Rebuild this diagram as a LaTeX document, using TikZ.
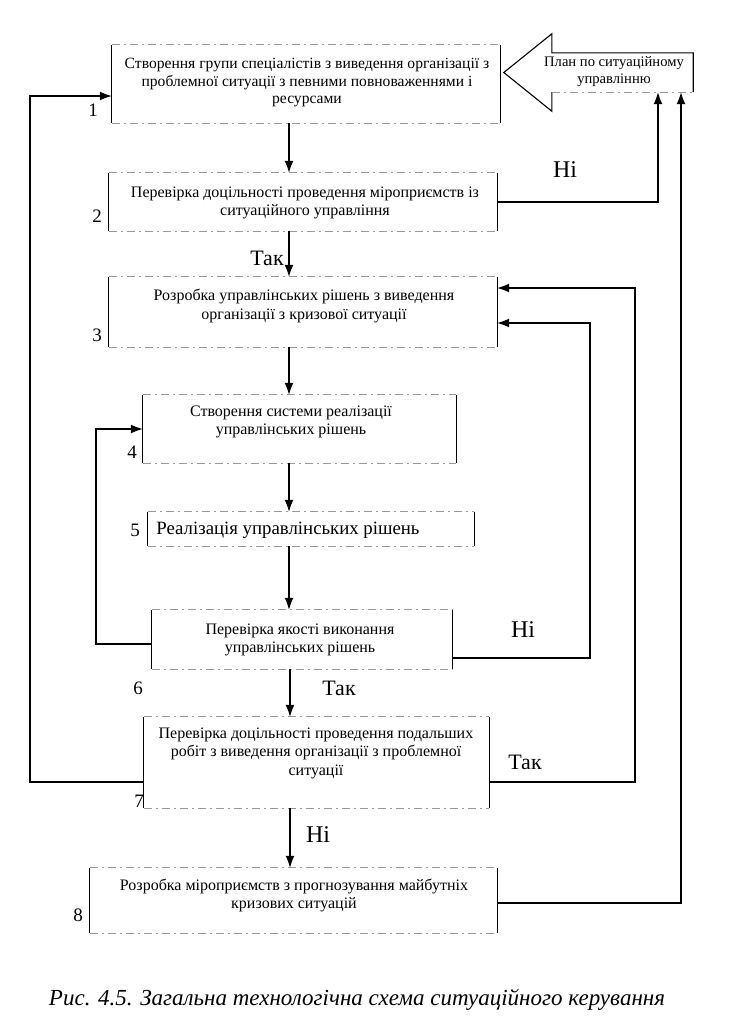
\documentclass[tikz,border=0pt]{standalone}
\usepackage{fontspec}
\setmainfont{Liberation Serif}
\usetikzlibrary{arrows.meta,calc}
\begin{document}
\begin{tikzpicture}[x=1pt,y=-1pt,
  box/.style={inner sep=0pt, minimum width=#1},
  txt/.style={inner sep=0pt, align=center, font=\fontsize{16}{18.5}\selectfont},
  side/.style={line width=1.1pt},
  faint/.style={line width=0.7pt, black!40, dash pattern=on 8pt off 4pt on 2pt off 4pt},
  conn/.style={line width=1.2pt, -{Latex[length=12pt,width=9pt]}},
  num/.style={inner sep=0pt, font=\fontsize{19}{19}\selectfont},
  lbl/.style={inner sep=0pt, font=\fontsize{24}{24}\selectfont},
  yes/.style={inner sep=0pt, font=\fontsize{22}{22}\selectfont}]
\useasboundingbox (0,0) rectangle (736,1026);

% boxes
\node[box=388pt, minimum height=78pt] (b1) at (306,84) {};
\node[box=388pt, minimum height=58pt] (b2) at (303,202) {};
\node[box=388pt, minimum height=70pt] (b3) at (303,312) {};
\node[box=313pt, minimum height=68pt] (b4) at (299.5,429) {};
\node[box=326pt, minimum height=34pt] (b5) at (311,529) {};
\node[box=300pt, minimum height=59pt] (b6) at (302,639.5) {};
\node[box=345pt, minimum height=91pt] (b7) at (316.5,762.5) {};
\node[box=407pt, minimum height=65pt] (b8) at (293.5,900.5) {};

\foreach \n in {b1,b2,b3,b4,b5,b6,b7,b8}{
  \draw[side] (\n.north west) -- (\n.south west);
  \draw[side] (\n.north east) -- (\n.south east);
  \draw[faint] (\n.north west) -- (\n.north east);
  \draw[faint] (\n.south west) -- (\n.south east);
}

% texts
\node[txt, font=\fontsize{15.6}{17.5}\selectfont] (t1) at (307,83) {Створення групи спеціалістів з виведення організації з\\проблемної ситуації з певними повноваженнями і\\ресурсами};
\node[txt] (t2) at (305,203) {Перевірка доцільності проведення мiроприємств із\\ситуаційного управління};
\node[txt] (t3) at (304,306) {Розробка управлінських рішень з виведення\\організації з кризової ситуації};
\node[txt] (t4) at (291,422) {Створення системи реалізації\\управлінських рішень};
\node[inner sep=0pt, font=\fontsize{18.8}{20}\selectfont] (t5) at (288,530) {Реалізація управлінських рішень};
\node[txt] (t6) at (300,640) {Перевірка якості виконання\\управлінських рішень};
\node[txt] (t7) at (316,753) {Перевірка доцільності проведення подальших\\робіт з виведення організації з проблемної\\ситуації};
\node[txt] (t8) at (294,895.5) {Розробка мiроприємств з прогнозування майбутніх\\кризових ситуацій};

% numbers
\node[num] (n1) at (93,110) {1};
\node[num] (n2) at (97,216) {2};
\node[num] (n3) at (97,335) {3};
\node[num] (n4) at (132,452) {4};
\node[num] (n5) at (135,530) {5};
\node[num] (n6) at (138,688) {6};
\node[num] (n7) at (139,801) {7};
\node[num] (n8) at (78,915) {8};

% block arrow "plan"
\node[inner sep=0pt, minimum width=141pt, minimum height=39pt] (plan) at (622.5,72.5) {};
\node[inner sep=0pt, align=center, font=\fontsize{14.6}{17}\selectfont] (tp) at (614,72) {План по ситуаційному\\управлінню};
\draw[side, line join=miter] (plan.south west) -- ($(plan.south west)+(0,19)$) -- ($(plan.west)+(-48,0)$) -- ($(plan.north west)+(0,-19)$) -- (plan.north west) -- (plan.north east) -- (plan.south east);
\draw[faint] (plan.south west) -- (plan.south east);

% helper coordinates
\coordinate (vx) at (289,0);
\coordinate (r1) at (658,0);
\coordinate (r2) at (681,0);

% main flow
\draw[conn] (b1.south -| vx) -- (b2.north -| vx);
\draw[conn] (b2.south -| vx) -- (b3.north -| vx);
\draw[conn] (b3.south -| vx) -- (b4.north -| vx);
\draw[conn] (b4.south -| vx) -- (b5.north -| vx);
\draw[conn] (b5.south -| vx) -- (b6.north -| vx);
\draw[conn] ([xshift=1pt]b6.south -| vx) -- ([xshift=1pt]b7.north -| vx);
\draw[conn] ([xshift=1pt]b7.south -| vx) -- ([xshift=1pt]b8.north -| vx);

% feedback lines
\draw[conn] (b2.east) -| (plan.south -| r1);
\draw[conn] (b8.east |- 0,903) -| (plan.south -| r2);
\draw[conn] (b6.west |- 0,644) -- (96,644) |- (b4.west);
\draw[conn] (b6.east |- 0,658) -- (590,658) -- (590,323) -- (b3.east |- 0,323);
\draw[conn] (b7.west |- 0,782) -- (30,782) -- (30,96) -- (b1.west |- 0,96);
\draw[conn] (b7.east |- 0,782) -- (635,782) -- (635,288) -- (b3.east |- 0,288);

% labels
\node[lbl] (l1) at (565,170) {Ні};
\node[yes] (l2) at (267,258) {Так};
\node[lbl] (l3) at (523,630) {Ні};
\node[yes] (l4) at (339,688) {Так};
\node[yes] (l5) at (525,762) {Так};
\node[lbl] (l6) at (318,835) {Ні};

% caption
\node[inner sep=0pt, font=\itshape\fontsize{23}{23}\selectfont] (cap) at (357,1000) {Рис. 4.5. Загальна технологічна схема ситуаційного керування};
\end{tikzpicture}
\end{document}
